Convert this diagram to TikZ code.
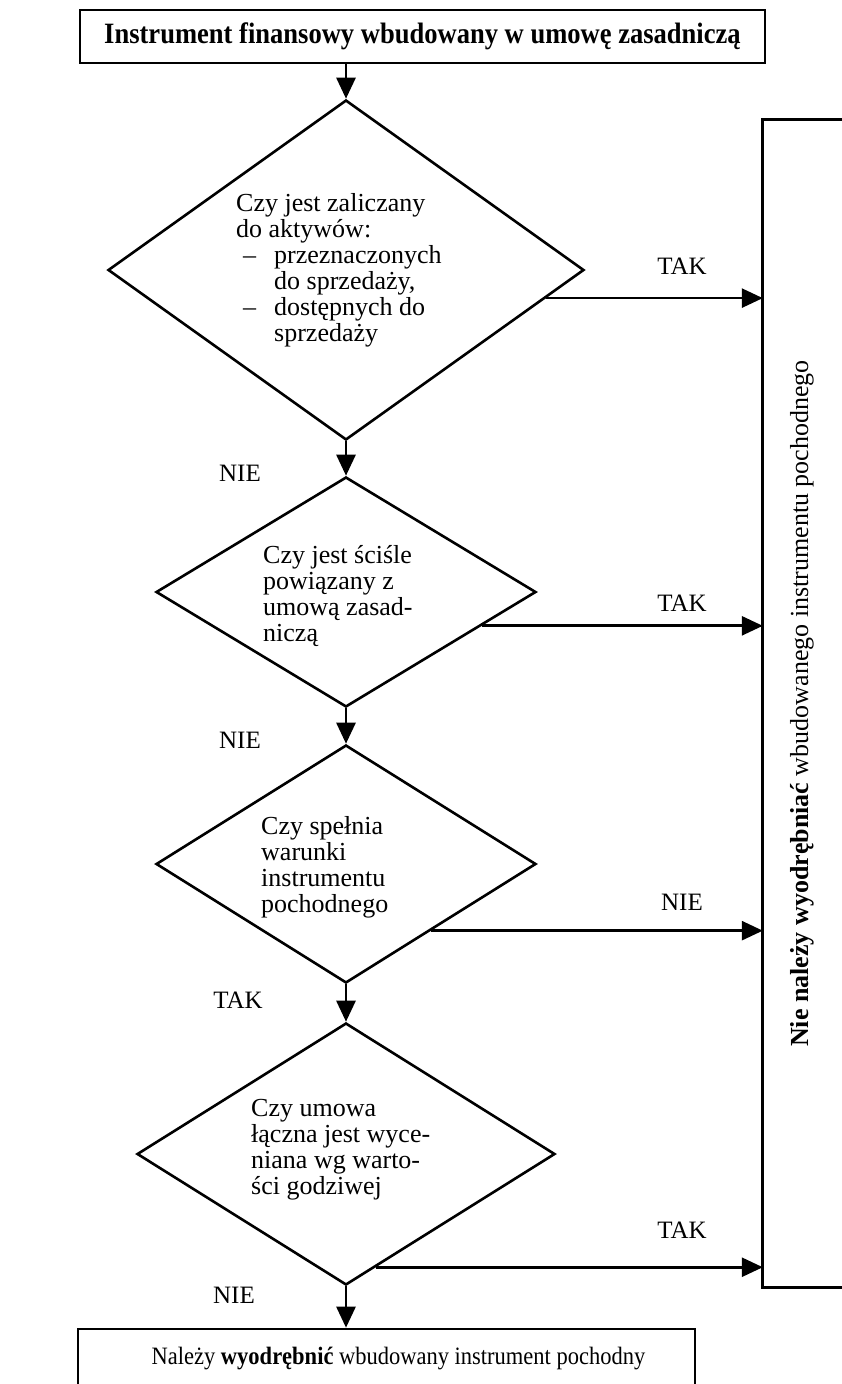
\documentclass[tikz,border=0pt]{standalone}
\usepackage{fontspec}
\setmainfont{Liberation Serif}
\newfontfamily\condserif{Liberation Serif}[FakeStretch=0.9]
\usetikzlibrary{shapes.geometric,arrows.meta,calc}
\begin{document}
\begin{tikzpicture}[x=1pt,y=-1pt,
  box/.style={draw, rectangle, line width=2.7pt, inner sep=0pt},
  dia/.style={draw, diamond, line width=2.6pt, inner sep=0pt},
  qtext/.style={anchor=west, align=left, inner sep=0pt, font=\fontsize{26}{26}\selectfont},
  lab/.style={inner sep=0pt, font=\fontsize{25}{25}\selectfont},
  arr/.style={line width=2.7pt, -{Triangle[length=21pt,width=19pt]}},
  edge/.style={line width=2.7pt}]
\useasboundingbox (0,0) rectangle (842,1384);
\clip (0,0) rectangle (842,1384);

% top box
\node[box, minimum width=685pt, minimum height=53pt, font=\condserif\fontsize{29.5}{29.5}\selectfont\bfseries]
  (top) at (422.5,36.5) {Instrument finansowy wbudowany w umowę zasadniczą};

% diamonds
\node[dia, minimum width=476pt, minimum height=340pt] (d1) at (346,270) {};
\node[dia, minimum width=380pt, minimum height=230pt] (d2) at (346,592) {};
\node[dia, minimum width=380pt, minimum height=238pt] (d3) at (346,864) {};
\node[dia, minimum width=418pt, minimum height=262pt] (d4) at (346,1154) {};

% diamond texts
\node[qtext] (t1) at (236,270) {Czy jest zaliczany\\do aktywów:\\\hspace*{7pt}\makebox[31pt][l]{–}przeznaczonych\\\hspace*{38pt}do sprzedaży,\\\hspace*{7pt}\makebox[31pt][l]{–}dostępnych do\\\hspace*{38pt}sprzedaży};
\node[qtext] (t2) at (263,596) {Czy jest ściśle\\powiązany z\\umową zasad-\\niczą};
\node[qtext] (t3) at (261,867) {Czy spełnia\\warunki\\instrumentu\\pochodnego};
\node[qtext] (t4) at (251,1150) {Czy umowa\\łączna jest wyce-\\niana wg warto-\\ści godziwej};

% right box (open to the right)
\node[minimum width=78pt, minimum height=1167pt, inner sep=0pt] (rbox) at (802,703.5) {};
\draw[edge] ($(rbox.north east)+(20,0)$) -- (rbox.north west) -- (rbox.south west) -- ($(rbox.south east)+(20,0)$);
\node[rotate=90, inner sep=0pt, font=\fontsize{26}{26}\selectfont] (rtext) at (rbox.center)
  {\textbf{Nie należy wyodrębniać} wbudowanego instrumentu pochodnego};

% bottom box
\node[box, minimum width=617pt, minimum height=58pt, font=\condserif\fontsize{25}{25}\selectfont]
  (bot) at (386.5,1358) {\hspace*{24pt}Należy \textbf{wyodrębnić} wbudowany instrument pochodny};

% vertical connectors
\draw[arr] (top.south -| d1.north) -- (d1.north);
\draw[arr] (d1.south) -- (d2.north);
\draw[arr] (d2.south) -- (d3.north);
\draw[arr] (d3.south) -- (d4.north);
\draw[arr] (d4.south) -- (d4.south |- bot.north);

% horizontal connectors
\draw[arr] (d1.-8) -- (d1.-8 -| rbox.west);
\draw[arr] (d2.-14.8) -- (d2.-14.8 -| rbox.west);
\draw[arr] (d3.-38) -- (d3.-38 -| rbox.west);
\draw[arr] (d4.-75.7) -- (d4.-75.7 -| rbox.west);

% labels
\node[lab] (l1) at (682,266) {TAK};
\node[lab] (l2) at (682,603) {TAK};
\node[lab] (l3) at (682,902) {NIE};
\node[lab] (l4) at (682,1230) {TAK};
\node[lab] (n1) at (240,473) {NIE};
\node[lab] (n2) at (240,740) {NIE};
\node[lab] (n3) at (238,1000) {TAK};
\node[lab] (n4) at (234,1295) {NIE};
\end{tikzpicture}
\end{document}
